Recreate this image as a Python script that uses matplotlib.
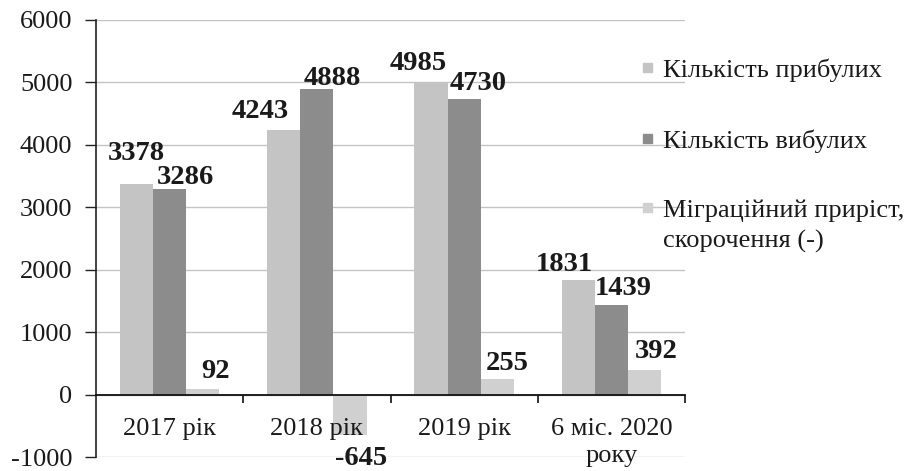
import matplotlib.pyplot as plt
from matplotlib.patches import Rectangle

categories = ["2017 рік", "2018 рік", "2019 рік", "6 міс. 2020\nроку"]
series_names = ["Кількість прибулих", "Кількість вибулих",
                "Міграційний приріст,\nскорочення (-)"]
arrived = [3378, 4243, 4985, 1831]
departed = [3286, 4888, 4730, 1439]
net = [92, -645, 255, 392]

colors = ["#c4c4c4", "#8c8c8c", "#d0d0d0"]
text_color = "#1a1a1a"
# hand-placed value labels in the original (pixels): x shift, baseline distance from bar end
label_dx = [[0, -24, -13, -14], [16, 15, 14, 12], [13, 11, 10, 12]]
label_dy = [[24, 12, 13, 9], [5, 4, 9, 10], [11, -30, 9, 12]]

plt.rcParams['font.family'] = ['Liberation Serif', 'DejaVu Serif']
plt.rcParams['axes.unicode_minus'] = False

W, H = 911, 471
fig = plt.figure(figsize=(W / 100, H / 100), dpi=100)
ax = fig.add_axes([96 / W, 1 - 457 / H, (685 - 96) / W, (457 - 20) / H])

width = 0.225
x = list(range(len(categories)))
for i, vals in enumerate([arrived, departed, net]):
    xs = [k + (i - 1) * width for k in x]
    bars = ax.bar(xs, vals, width, color=colors[i], zorder=2)
    for b, v, dx, dy in zip(bars, vals, label_dx[i], label_dy[i]):
        ax.annotate(str(v), (b.get_x() + b.get_width() / 2, v), xytext=(dx, dy),
                    textcoords='offset pixels', ha='center', va='baseline',
                    fontsize=20.5, fontweight='bold', color=text_color, zorder=4)

ax.set_xlim(-0.5, 3.5)
ax.set_ylim(-1000, 6000)
ax.set_yticks(range(-1000, 6001, 1000))
ax.grid(axis='y', color='#c4c4c4', lw=1)
ax.set_axisbelow(True)
# category labels sit on top of the bars (the "2018 рік" label crosses the -645 bar)
ax.xaxis.set_zorder(3)

ax.spines['top'].set_visible(False)
ax.spines['right'].set_visible(False)
ax.spines['bottom'].set_position(('data', 0))
ax.spines['bottom'].set_color('#111111')
ax.spines['bottom'].set_linewidth(1.3)
ax.spines['bottom'].set_zorder(3)
ax.spines['left'].set_color('#222222')
ax.spines['left'].set_linewidth(1.2)

ax.set_xticks(x, categories)
ax.set_xticks([0.5, 1.5, 2.5, 3.5], minor=True)
ax.tick_params(axis='x', which='major', length=0, pad=17, labelsize=19,
               labelcolor=text_color)
ax.tick_params(axis='x', which='minor', length=6, width=1.2, color='#111111')
ax.tick_params(axis='y', length=8, width=1, color='#222222', pad=9,
               labelsize=19, labelcolor=text_color)
for t in ax.get_xticklabels():
    t.set_linespacing(1.3)

# legend on the right, drawn by hand like the original
leg_y = [77, 148, 217]
for name, c, yb in zip(series_names, colors, leg_y):
    fig.patches.append(Rectangle((643 / W, 1 - (yb - 5) / H), 9 / W, 9 / H,
                                 transform=fig.transFigure, color=c))
    # matplotlib puts the baseline of a multi-line text on its last line
    last = yb + 31 * name.count("\n")
    fig.text(663 / W, 1 - last / H, name, fontsize=19, va='baseline', ha='left',
             color=text_color, linespacing=1.45)

fig.savefig("out.png", dpi=100)
